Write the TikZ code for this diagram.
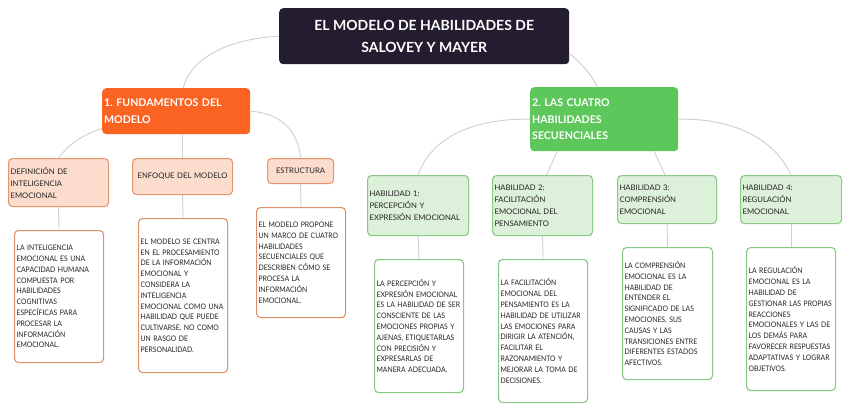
\documentclass[tikz,border=0pt]{standalone}
\usepackage{fontspec}
\setmainfont{Lato}
\newfontfamily\narrowfont[FakeStretch=0.9]{Lato}
\frenchspacing
\definecolor{titlebg}{HTML}{231D2F}
\definecolor{orangemain}{HTML}{FB6322}
\definecolor{greenmain}{HTML}{5EC75B}
\definecolor{orangelight}{HTML}{FCDDCD}
\definecolor{orangeborder}{HTML}{E8946C}
\definecolor{greenlight}{HTML}{DDF0D9}
\definecolor{greenborder}{HTML}{8CC986}
\definecolor{descorange}{HTML}{E0906A}
\definecolor{descgreen}{HTML}{86C980}
\definecolor{conn}{HTML}{CFCFCF}
\definecolor{txt}{HTML}{222222}
\tikzset{
  box/.style={rectangle, rounded corners=4pt, inner xsep=2pt, inner ysep=0pt, anchor=north west},
  titlebox/.style={box, fill=titlebg, text=white, font=\fontsize{14}{21.5}\selectfont\bfseries, align=center},
  mainbox/.style={box, text=white, font=\fontsize{10.6}{16.5}\selectfont\bfseries, align=left},
  childtxt/.style={box, font=\fontsize{7.7}{12}\selectfont, text=txt, line width=1.1pt},
  ochild/.style={childtxt, fill=orangelight, draw=orangeborder},
  gchild/.style={childtxt, fill=greenlight, draw=greenborder},
  desc/.style={box, fill=white, font=\narrowfont\fontsize{7.6}{10.8}\selectfont, text=txt, line width=1.1pt, align=left},
  odesc/.style={desc, draw=descorange},
  gdesc/.style={desc, draw=descgreen},
  conline/.style={draw=conn, line width=0.9pt}
}
\begin{document}
\begin{tikzpicture}[x=1pt,y=-1pt]
\useasboundingbox (0,0) rectangle (848,410);
\fill[white] (0,0) rectangle (848,410);
% title
\node[titlebox, minimum width=290pt, minimum height=56pt] (title) at (279,8) {EL MODELO DE HABILIDADES DE\\SALOVEY Y MAYER};
% main branches
\node[mainbox, fill=orangemain, minimum width=148pt, minimum height=46pt, text width=144pt] (fund) at (102,88) {1. FUNDAMENTOS DEL\\MODELO};
\node[mainbox, fill=greenmain, minimum width=148pt, minimum height=64pt, text width=144pt] (hab) at (530,87) {2. LAS CUATRO\\HABILIDADES\\SECUENCIALES};
% orange children
\node[ochild, minimum width=100pt, minimum height=48pt, text width=96pt, align=left] (def) at (8,158) {DEFINICIÓN DE\\INTELIGENCIA\\EMOCIONAL};
\node[ochild, minimum width=100pt, minimum height=36pt, text width=96pt, align=center] (enf) at (132,158) {ENFOQUE DEL MODELO};
\node[ochild, minimum width=66pt, minimum height=25pt, text width=62pt, align=center] (est) at (267,158) {ESTRUCTURA};
% orange descriptions
\node[odesc, minimum width=88pt, minimum height=132pt, text width=85pt] (defd) at (14,230) {LA INTELIGENCIA\\EMOCIONAL ES UNA\\CAPACIDAD HUMANA\\COMPUESTA POR\\HABILIDADES\\COGNITIVAS\\ESPECÍFICAS PARA\\PROCESAR LA\\INFORMACIÓN\\EMOCIONAL.};
\node[odesc, minimum width=88pt, minimum height=154pt, text width=85pt] (enfd) at (138,218) {EL MODELO SE CENTRA\\EN EL PROCESAMIENTO\\DE LA INFORMACIÓN\\EMOCIONAL Y\\CONSIDERA LA\\INTELIGENCIA\\EMOCIONAL COMO UNA\\HABILIDAD QUE PUEDE\\CULTIVARSE, NO COMO\\UN RASGO DE\\PERSONALIDAD.};
\node[odesc, minimum width=88pt, minimum height=110pt, text width=85pt] (estd) at (256,207) {EL MODELO PROPONE\\UN MARCO DE CUATRO\\HABILIDADES\\SECUENCIALES QUE\\DESCRIBEN CÓMO SE\\PROCESA LA\\INFORMACIÓN\\EMOCIONAL.};
% green children
\node[gchild, minimum width=101pt, minimum height=60pt, text width=97pt, align=left] (h1) at (367,175) {HABILIDAD 1:\\PERCEPCIÓN Y\\EXPRESIÓN EMOCIONAL};
\node[gchild, minimum width=100pt, minimum height=60pt, text width=96pt, align=left] (h2) at (492,175) {HABILIDAD 2:\\FACILITACIÓN\\EMOCIONAL DEL\\PENSAMIENTO};
\node[gchild, minimum width=99pt, minimum height=48pt, text width=95pt, align=left] (h3) at (617,175) {HABILIDAD 3:\\COMPRENSIÓN\\EMOCIONAL};
\node[gchild, minimum width=101pt, minimum height=48pt, text width=97pt, align=left] (h4) at (740,175) {HABILIDAD 4:\\REGULACIÓN\\EMOCIONAL};
% green descriptions
\node[gdesc, minimum width=88pt, minimum height=133pt, text width=85pt] (h1d) at (374,259) {LA PERCEPCIÓN Y\\EXPRESIÓN EMOCIONAL\\ES LA HABILIDAD DE SER\\CONSCIENTE DE LAS\\EMOCIONES PROPIAS Y\\AJENAS, ETIQUETARLAS\\CON PRECISIÓN Y\\EXPRESARLAS DE\\MANERA ADECUADA.};
\node[gdesc, minimum width=88pt, minimum height=143pt, text width=85pt] (h2d) at (498,259) {LA FACILITACIÓN\\EMOCIONAL DEL\\PENSAMIENTO ES LA\\HABILIDAD DE UTILIZAR\\LAS EMOCIONES PARA\\DIRIGIR LA ATENCIÓN,\\FACILITAR EL\\RAZONAMIENTO Y\\MEJORAR LA TOMA DE\\DECISIONES.};
\node[gdesc, minimum width=89pt, minimum height=132pt, text width=86pt] (h3d) at (622,247) {LA COMPRENSIÓN\\EMOCIONAL ES LA\\HABILIDAD DE\\ENTENDER EL\\SIGNIFICADO DE LAS\\EMOCIONES, SUS\\CAUSAS Y LAS\\TRANSICIONES ENTRE\\DIFERENTES ESTADOS\\AFECTIVOS.};
\node[gdesc, minimum width=88pt, minimum height=143pt, text width=85pt] (h4d) at (746,247) {LA REGULACIÓN\\EMOCIONAL ES LA\\HABILIDAD DE\\GESTIONAR LAS PROPIAS\\REACCIONES\\EMOCIONALES Y LAS DE\\LOS DEMÁS PARA\\FAVORECER RESPUESTAS\\ADAPTATIVAS Y LOGRAR\\OBJETIVOS.};
% connectors
\draw[conline] (title.west) .. controls (225,39) and (190,60) .. ([xshift=7pt]fund.north);
\draw[conline] ([yshift=11pt]title.south east) .. controls (582,64) and (592,75) .. ([xshift=-7pt]hab.north);
\draw[conline] ([yshift=6pt]fund.south west) .. controls (82,135) and (68,145) .. (def.north);
\draw[conline] (enf.north) -- (enf.north |- fund.south);
\draw[conline] (fund.east) .. controls (280,113) and (298,130) .. (est.north);
\draw[conline] (hab.west) .. controls (470,118) and (430,140) .. (h1.north);
\draw[conline] ([xshift=-47pt]hab.south) -- ([xshift=4pt]h2.north);
\draw[conline] ([xshift=50pt]hab.south) -- ([xshift=-2pt]h3.north);
\draw[conline] (hab.east) .. controls (735,118) and (775,140) .. (h4.north);
\draw[conline] (def.south) -- (defd.north);
\draw[conline] (enf.south) -- (enfd.north);
\draw[conline] (est.south) -- (estd.north);
\draw[conline] (h1.south) -- (h1d.north);
\draw[conline] (h2.south) -- (h2d.north);
\draw[conline] (h3.south) -- (h3d.north);
\draw[conline] (h4.south) -- (h4d.north);
\end{tikzpicture}
\end{document}
